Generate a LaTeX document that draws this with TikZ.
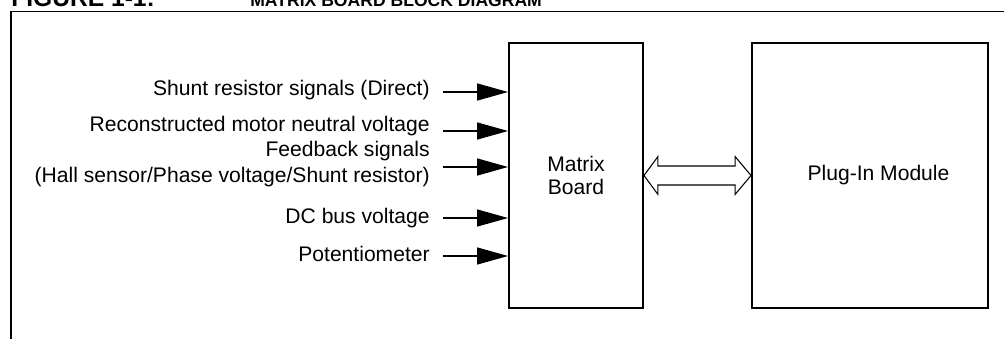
\documentclass[tikz,border=0pt]{standalone}
\usepackage{fontspec}
\setmainfont{Liberation Sans}
\usetikzlibrary{arrows.meta,calc}

\tikzset{
  block/.style={draw, line width=1.1pt, minimum width=2.68cm, minimum height=5.3cm,
    align=center, inner sep=0pt, font=\fontsize{12}{13}\selectfont},
  sig/.style={line width=0.8pt, -{Triangle[length=0.62cm,width=0.34cm]}},
  siglabel/.style={anchor=east, align=right, inner sep=0pt, font=\fontsize{12}{14.5}\selectfont},
  heading/.style={anchor=base west, inner sep=0pt, font=\bfseries\fontsize{10}{12}\selectfont},
}

\begin{document}
\begin{tikzpicture}
    \useasboundingbox (0,0) rectangle (20.08,6.78);

    % title and frame
    \node[heading, font=\bfseries\fontsize{14}{16}\selectfont] (fig) at (0.22,6.64) {FIGURE 1-1:};
    \node[heading] (title) at (5.0,6.64) {MATRIX BOARD BLOCK DIAGRAM};
    \draw[line width=1.1pt] (0.22,-0.2) -- (0.22,6.55) -- (20.3,6.55);

    % boxes
    \node[block] (mb) at (11.52,3.27) {Matrix\\Board};
    \node[block, minimum width=4.72cm] (pim) at (17.40,3.27) {};
    \node[font=\fontsize{12}{13}\selectfont] (pimtext) at ([xshift=0.17cm]pim.center) {Plug-In Module};

    % double arrow between the boards
    \draw[line width=0.6pt, fill=white] (mb.east) -- ++(0.28,0.38) -- ++(0,-0.19)
      -- ($ (pim.west) + (-0.32,0.19) $) -- ++(0,0.19) -- (pim.west)
      -- ++(-0.32,-0.38) -- ++(0,0.19) -- ($ (mb.east) + (0.28,-0.19) $)
      -- ++(0,-0.19) -- cycle;

    % input signals
    \foreach \y/\ay/\name/\txt in {4.98/4.94/shunt/{Shunt resistor signals (Direct)},
        4.26/4.16/neutral/{Reconstructed motor neutral voltage},
        3.50/3.44/feedback/{Feedback signals\\(Hall sensor/Phase voltage/Shunt resistor)},
        2.42/2.42/dcbus/{DC bus voltage},
        1.70/1.66/pot/{Potentiometer}}
    {
      \node[siglabel] (\name) at (8.6,\y) {\txt};
      \draw[sig] ([xshift=0.26cm]\name.east |- 0,\ay) -- (mb.west |- 0,\ay);
    }
\end{tikzpicture}
\end{document}
